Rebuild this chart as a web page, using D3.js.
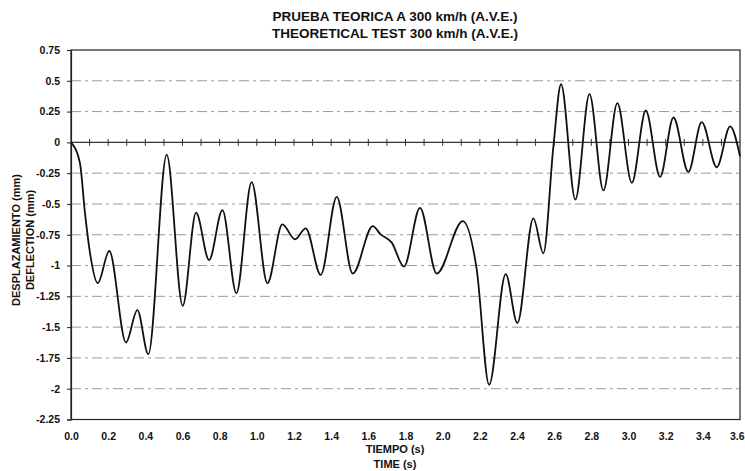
<!DOCTYPE html>
<html>
<head>
<meta charset="utf-8">
<script src="https://cdn.jsdelivr.net/npm/d3@7"></script>
<style>
  html, body { margin: 0; padding: 0; background: #fff; }
  svg { display: block; font-family: "Liberation Sans", Arial, sans-serif; }
  .tick-label { font-size: 10.5px; font-weight: bold; fill: #111; }
  .title { font-size: 13.5px; font-weight: bold; fill: #111; }
  .axis-title { font-size: 11px; font-weight: bold; fill: #111; }
</style>
</head>
<body>
<svg id="chart" width="745" height="471"></svg>
<script>
// Deflection response, simulated pass at 300 km/h
const time = [0, 0.048, 0.075, 0.102, 0.144, 0.206, 0.296, 0.357, 0.416, 0.515, 0.601, 0.673, 0.743, 0.815, 0.890, 0.972, 1.057, 1.137, 1.206, 1.263, 1.344, 1.430, 1.516, 1.624, 1.665, 1.726, 1.792, 1.878, 1.968, 2.108, 2.183, 2.250, 2.339, 2.402, 2.488, 2.542, 2.596, 2.637, 2.714, 2.790, 2.865, 2.940, 3.018, 3.093, 3.170, 3.242, 3.322, 3.394, 3.475, 3.547, 3.6];
const deflection = [0, -0.167, -0.571, -0.895, -1.143, -0.882, -1.625, -1.362, -1.72, -0.10, -1.327, -0.571, -0.955, -0.55, -1.224, -0.323, -1.143, -0.666, -0.787, -0.698, -1.076, -0.442, -1.065, -0.680, -0.745, -0.814, -1.008, -0.531, -1.065, -0.639, -1.03, -1.968, -1.07, -1.467, -0.617, -0.9, -0.03, 0.472, -0.464, 0.392, -0.39, 0.319, -0.329, 0.259, -0.28, 0.202, -0.24, 0.165, -0.202, 0.13, -0.113];

const yTicks = [0.75, 0.5, 0.25, 0, -0.25, -0.5, -0.75, -1, -1.25, -1.5, -1.75, -2, -2.25];
const yTickLabels = ["0.75", "0.5", "0.25", "0", "-0.25", "-0.5", "-0.75", "-1", "-1.25", "-1.5", "-1.75", "-2", "-2.25"];
const xTicks = [0, 0.2, 0.4, 0.6, 0.8, 1.0, 1.2, 1.4, 1.6, 1.8, 2.0, 2.2, 2.4, 2.6, 2.8, 3.0, 3.2, 3.4, 3.6];
const xTickLabels = ["0.0", "0.2", "0.4", "0.6", "0.8", "1.0", "1.2", "1.4", "1.6", "1.8", "2.0", "2.2", "2.4", "2.6", "2.8", "3.0", "3.2", "3.4", "3.6"];
const minorTicks = d3.range(0, 37).map(i => i / 10);

const titleLines = ["PRUEBA TEORICA A 300 km/h (A.V.E.)", "THEORETICAL TEST 300 km/h (A.V.E.)"];
const xTitleLines = ["TIEMPO (s)", "TIME (s)"];
const yTitleLines = ["DESPLAZAMIENTO (mm)", "DEFLECTION (mm)"];

const svg = d3.select("#chart");
const plotLeft = 71, plotRight = 740, plotTop = 50, plotBottom = 419.5;

const x = d3.scaleLinear().domain([0, 3.6]).range([plotLeft, plotRight]);
const y = d3.scaleLinear().domain([-2.25, 0.75]).range([plotBottom, plotTop]);

// dashed horizontal grid
svg.append("g").selectAll("line")
  .data(yTicks.filter(v => v !== 0 && v !== 0.75 && v !== -2.25))
  .join("line")
  .attr("x1", plotLeft).attr("x2", plotRight)
  .attr("y1", d => y(d)).attr("y2", d => y(d))
  .attr("stroke", "#9a9a9a").attr("stroke-width", 1)
  .attr("stroke-dasharray", "10,4,3,4");

// plot frame
svg.append("rect")
  .attr("x", plotLeft).attr("y", plotTop)
  .attr("width", plotRight - plotLeft).attr("height", plotBottom - plotTop)
  .attr("fill", "none").attr("stroke", "#222").attr("stroke-width", 1.2);

// y axis with outward ticks
const yAxis = d3.axisLeft(y).tickValues(yTicks).tickSize(4)
  .tickFormat((d, i) => yTickLabels[i]);
const yg = svg.append("g").attr("transform", `translate(${plotLeft},0)`).call(yAxis);
yg.select(".domain").attr("stroke", "#222").attr("stroke-width", 1.2);
yg.selectAll(".tick line").attr("stroke", "#222");
yg.selectAll(".tick text").attr("class", "tick-label").attr("x", -11);
yg.attr("font-family", null).attr("font-size", null);

// x labels along the bottom
const xAxis = d3.axisBottom(x).tickValues(xTicks).tickSize(0)
  .tickFormat((d, i) => xTickLabels[i]);
const xg = svg.append("g").attr("transform", `translate(0,${plotBottom})`).call(xAxis);
xg.select(".domain").remove();
xg.selectAll(".tick text").attr("class", "tick-label").attr("y", 13)
  .attr("text-anchor", (d, i) => i === xTicks.length - 1 ? "end" : "middle")
  .attr("dx", (d, i) => i === xTicks.length - 1 ? 4 : 0);
xg.attr("font-family", null).attr("font-size", null);

// zero line with crossing ticks every 0.1 s
svg.append("line")
  .attr("x1", plotLeft).attr("x2", plotRight)
  .attr("y1", y(0)).attr("y2", y(0))
  .attr("stroke", "#333").attr("stroke-width", 1.2);
svg.append("g").selectAll("line")
  .data(minorTicks.filter(v => v > 0 && v < 3.6))
  .join("line")
  .attr("x1", d => x(d)).attr("x2", d => x(d))
  .attr("y1", y(0) - 3.5).attr("y2", y(0) + 3.5)
  .attr("stroke", "#333").attr("stroke-width", 1);

// response curve
const line = d3.line()
  .x((d, i) => x(time[i]))
  .y(d => y(d))
  .curve(d3.curveMonotoneX);
svg.append("path")
  .datum(deflection)
  .attr("d", line)
  .attr("fill", "none")
  .attr("stroke", "#111")
  .attr("stroke-width", 1.8);

// titles
svg.append("g").selectAll("text").data(titleLines).join("text")
  .attr("class", "title")
  .attr("x", 395).attr("y", (d, i) => 21 + i * 17)
  .attr("text-anchor", "middle")
  .text(d => d);

svg.append("g").selectAll("text").data(xTitleLines).join("text")
  .attr("class", "axis-title")
  .attr("x", 395).attr("y", (d, i) => 453 + i * 15)
  .attr("text-anchor", "middle")
  .text(d => d);

svg.append("g").selectAll("text").data(yTitleLines).join("text")
  .attr("class", "axis-title")
  .attr("transform", (d, i) => `translate(${20 + i * 14},240) rotate(-90)`)
  .attr("text-anchor", "middle")
  .text(d => d);
</script>
</body>
</html>
